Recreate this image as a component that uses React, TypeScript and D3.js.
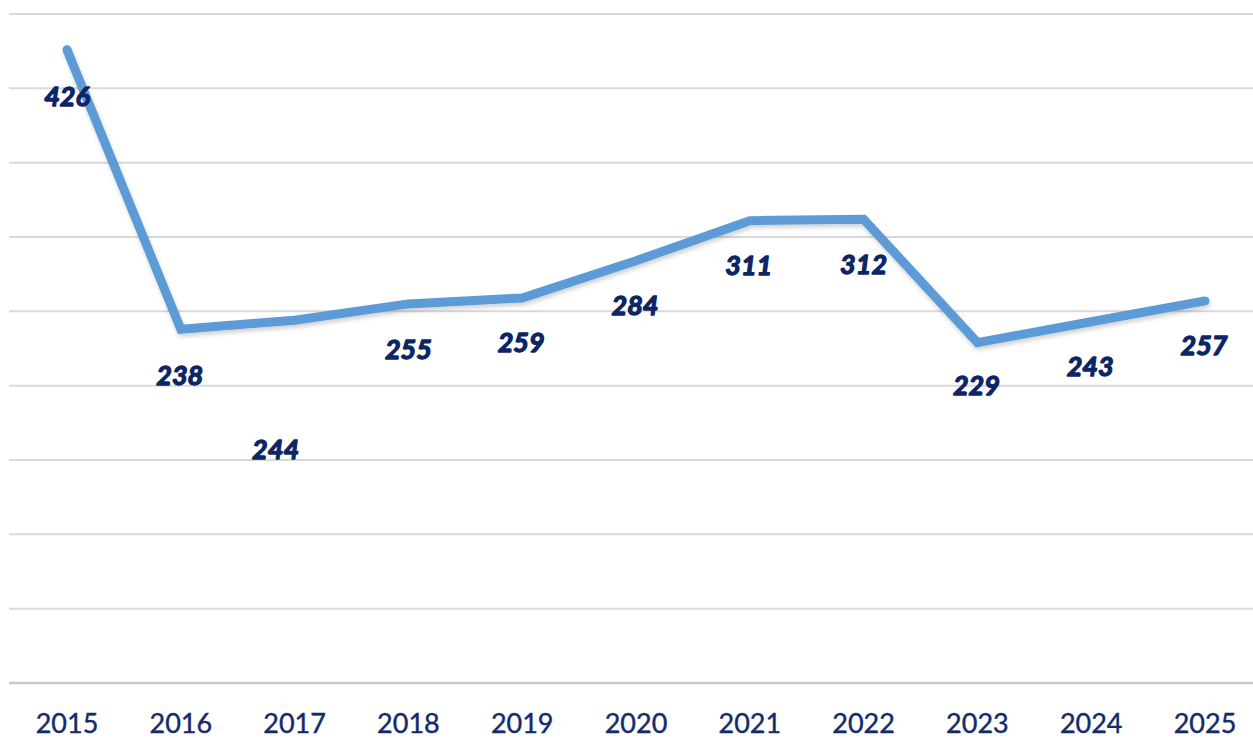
import * as d3 from "d3";
import { useEffect, useRef } from "react";

const years = ["2015", "2016", "2017", "2018", "2019", "2020", "2021", "2022", "2023", "2024", "2025"];
const values = [426, 238, 244, 255, 259, 284, 311, 312, 229, 243, 257];
const gridTicks = [0, 50, 100, 150, 200, 250, 300, 350, 400, 450];

// label placement relative to the point (px), as in the original export
const labelDx = [0, -1, -19, 0, -1, -1, -1, 0, -1, -1, -1];
const labelDy = [47, 46, 129, 45, 44, 44, 45, 45, 43, 45, 44];

const App = () => {
  const width = 1253;
  const height = 738;
  const svgRef = useRef<SVGSVGElement>(null);

  useEffect(() => {
    if (!svgRef.current) return;
    const svg = d3.select(svgRef.current);
    svg.selectAll("*").remove();

    const x = d3.scalePoint(years, [67, 1205]);
    const y = d3.scaleLinear([0, 450], [683, 14]);

    const defs = svg.append("defs");
    const filter = defs
      .append("filter")
      .attr("id", "shadow")
      .attr("x", "-5%")
      .attr("y", "-5%")
      .attr("width", "110%")
      .attr("height", "120%");
    filter
      .append("feDropShadow")
      .attr("dx", 1)
      .attr("dy", 3)
      .attr("stdDeviation", 2)
      .attr("flood-color", "#000")
      .attr("flood-opacity", 0.18);

    svg
      .append("g")
      .selectAll("line")
      .data(gridTicks)
      .join("line")
      .attr("x1", 9)
      .attr("x2", width)
      .attr("y1", (d) => y(d))
      .attr("y2", (d) => y(d))
      .attr("stroke", (d) => (d === 0 ? "#c8c8c8" : "#d9d9d9"))
      .attr("stroke-width", (d) => (d === 0 ? 2.5 : 2));

    const line = d3
      .line<number>()
      .x((_, i) => x(years[i]) as number)
      .y((d) => y(d));

    svg
      .append("path")
      .datum(values)
      .attr("d", line)
      .attr("fill", "none")
      .attr("stroke", "#5b9bd5")
      .attr("stroke-width", 9)
      .attr("stroke-linecap", "round")
      .attr("stroke-linejoin", "miter")
      .attr("filter", "url(#shadow)");

    svg
      .append("g")
      .selectAll("text")
      .data(values)
      .join("text")
      .attr("x", (_, i) => (x(years[i]) as number) + labelDx[i])
      .attr("y", (d, i) => y(d) + labelDy[i])
      .attr("dy", "0.36em")
      .attr("text-anchor", "middle")
      .attr("font-family", "Lato, 'Open Sans', sans-serif")
      .attr("font-size", 27)
      .attr("font-weight", "bold")
      .attr("font-style", "italic")
      .attr("fill", "#0e2565")
      .attr("stroke", "#0e2565")
      .attr("stroke-width", 1.3)
      .attr("stroke-linejoin", "round")
      .text((d) => d);

    svg
      .append("g")
      .selectAll("text")
      .data(years)
      .join("text")
      .attr("x", (d) => x(d) as number)
      .attr("y", 733)
      .attr("text-anchor", "middle")
      .attr("font-family", "Lato, 'Open Sans', sans-serif")
      .attr("font-size", 27)
      .attr("fill", "#142a6b")
      .attr("stroke", "#142a6b")
      .attr("stroke-width", 0.4)
      .text((d) => d);
  }, []);

  return (
    <svg
      width={width}
      height={height}
      ref={svgRef}
      style={{ position: "fixed", left: 0, top: 0, background: "white" }}
    ></svg>
  );
};

export default App;
